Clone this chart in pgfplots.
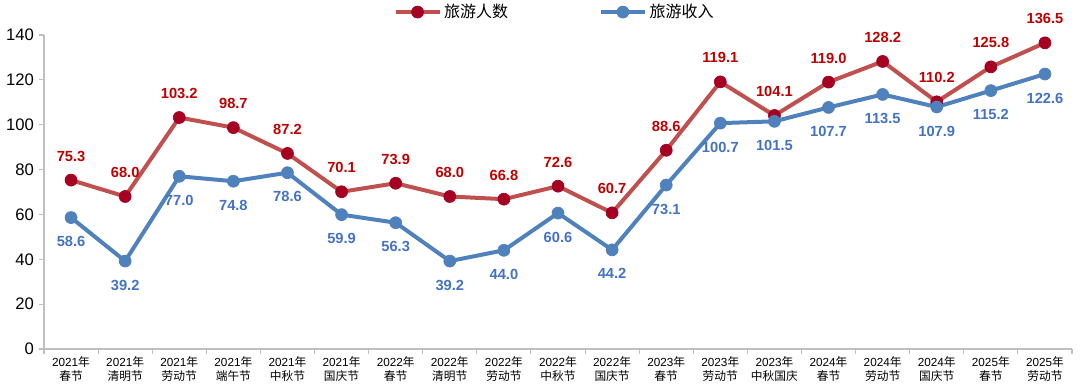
\documentclass[border=0pt]{standalone}
\usepackage{fontspec}
\setmainfont{Liberation Sans}
\newfontfamily\cjk{Noto Sans CJK SC}
\usepackage{pgfplots}
\pgfplotsset{compat=1.18}
\definecolor{redline}{HTML}{C0504D}
\definecolor{redmark}{HTML}{A50021}
\definecolor{redlab}{HTML}{C00000}
\definecolor{blueline}{HTML}{4F81BD}
\definecolor{bluelab}{HTML}{4472C4}
\definecolor{axgray}{HTML}{BFBFBF}
\begin{document}
\begin{tikzpicture}
\useasboundingbox (-33pt,-29.25pt) rectangle (777pt,261.75pt);
\begin{axis}[
  at={(0,0)}, anchor=south west,
  scale only axis, width=771pt, height=235.5pt,
  xmin=-0.5, xmax=18.5, ymin=0, ymax=140,
  ytick={0,20,...,140},
  xtick={0,...,18},
  minor xtick={-0.5,0.5,...,18.5},
  xticklabels={
    {2021{\cjk 年}\\{\cjk 春节}},
    {2021{\cjk 年}\\{\cjk 清明节}},
    {2021{\cjk 年}\\{\cjk 劳动节}},
    {2021{\cjk 年}\\{\cjk 端午节}},
    {2021{\cjk 年}\\{\cjk 中秋节}},
    {2021{\cjk 年}\\{\cjk 国庆节}},
    {2022{\cjk 年}\\{\cjk 春节}},
    {2022{\cjk 年}\\{\cjk 清明节}},
    {2022{\cjk 年}\\{\cjk 劳动节}},
    {2022{\cjk 年}\\{\cjk 中秋节}},
    {2022{\cjk 年}\\{\cjk 国庆节}},
    {2023{\cjk 年}\\{\cjk 春节}},
    {2023{\cjk 年}\\{\cjk 劳动节}},
    {2023{\cjk 年}\\{\cjk 中秋国庆}},
    {2024{\cjk 年}\\{\cjk 春节}},
    {2024{\cjk 年}\\{\cjk 劳动节}},
    {2024{\cjk 年}\\{\cjk 国庆节}},
    {2025{\cjk 年}\\{\cjk 春节}},
    {2025{\cjk 年}\\{\cjk 劳动节}}},
  xticklabel style={align=center, font=\fontsize{8.8}{10.5}\selectfont, inner sep=1.5pt},
  yticklabel style={font=\fontsize{12.5}{14}\selectfont},
  /pgf/number format/assume math mode=true,
  axis x line*=bottom, axis y line*=left,
  axis line style={axgray, line width=1pt},
  tick align=outside,
  major tick length=4pt, minor tick length=4pt,
  major x tick style={draw=none},
  minor x tick style={axgray, line width=0.8pt},
  major y tick style={axgray, line width=0.8pt},
  clip=false,
  legend columns=2,
  legend style={draw=none, fill=none, at={(0.497,1.073)}, anchor=center,
    font=\cjk\fontsize{12}{14}\selectfont,
    /tikz/every even column/.append style={column sep=66pt}},
  legend image code/.code={\draw[#1, mark repeat=2, mark phase=2] plot coordinates {(0pt,0pt)(16.5pt,0pt)(33pt,0pt)};},
  nodes near coords,
  nodes near coords style={font=\bfseries\fontsize{11}{13}\selectfont,
    /pgf/number format/fixed, /pgf/number format/fixed zerofill, /pgf/number format/precision=1},
]
\addplot[redline, line width=3pt, mark=*, mark size=4.5pt,
  mark options={fill=redmark, draw=redmark, line width=0.5pt},
  every node near coord/.append style={anchor=center, yshift=18pt, text=redlab}]
  coordinates {(0,75.3)(1,68.0)(2,103.2)(3,98.7)(4,87.2)(5,70.1)(6,73.9)(7,68.0)(8,66.8)(9,72.6)(10,60.7)(11,88.6)(12,119.1)(13,104.1)(14,119.0)(15,128.2)(16,110.2)(17,125.8)(18,136.5)};
\addlegendentry{旅游人数}
\addplot[blueline, line width=3pt, mark=*, mark size=4.5pt,
  mark options={fill=blueline, draw=blueline, line width=0.5pt},
  every node near coord/.append style={anchor=center, yshift=-18pt, text=bluelab}]
  coordinates {(0,58.6)(1,39.2)(2,77.0)(3,74.8)(4,78.6)(5,59.9)(6,56.3)(7,39.2)(8,44.0)(9,60.6)(10,44.2)(11,73.1)(12,100.7)(13,101.5)(14,107.7)(15,113.5)(16,107.9)(17,115.2)(18,122.6)};
\addlegendentry{旅游收入}
\end{axis}
\end{tikzpicture}
\end{document}
